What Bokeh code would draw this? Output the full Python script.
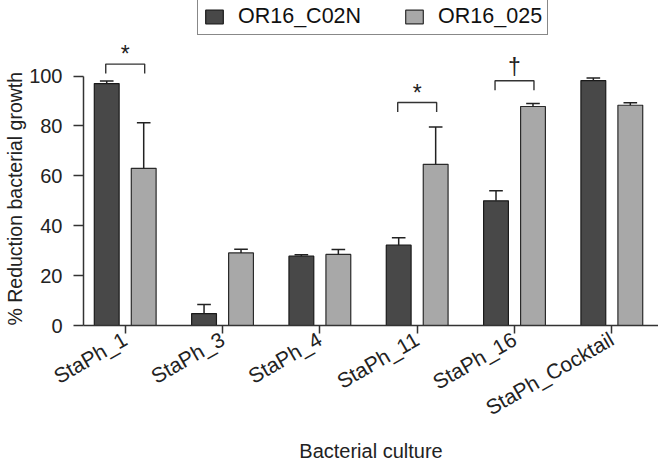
import numpy as np
from bokeh.plotting import figure
from bokeh.models import Range1d, FixedTicker, Legend, LegendItem, Title
from bokeh.core.properties import value
from bokeh.embed import file_html
from bokeh.resources import INLINE

# ---- data ----
categories = ["StaPh_1", "StaPh_3", "StaPh_4", "StaPh_11", "StaPh_16", "StaPh_Cocktail"]
c02n = [97.0, 4.8, 27.8, 32.2, 50.0, 98.2]
c02n_err = [1.0, 3.6, 0.6, 3.0, 4.0, 1.0]
or025 = [63.0, 29.1, 28.5, 64.6, 87.8, 88.3]
or025_err = [18.3, 1.5, 2.0, 15.0, 1.2, 1.0]
y_ticks = [0, 20, 40, 60, 80, 100]
sig_index = [0, 3, 4]
sig_symbols = ["*", "*", "\u2020"]
sig_bracket_top = [104.8, 89.4, 98.1]
sig_label_y = [108.8, 93.4, 103.8]
series_names = ["OR16_C02N", "OR16_025"]
x_title = "Bacterial culture"
y_title = "% Reduction bacterial growth"

FONT = "Liberation Sans"
DARK = "#484848"
LIGHT = "#a8a8a8"

idx = np.arange(len(categories))
off = 0.19
bw = 0.255
xd = idx - off
xl = idx + off

p = figure(width=658, height=465, output_backend="svg", toolbar_location=None,
           x_range=Range1d(-0.4286, 5.4796), y_range=Range1d(0, 130.3),
           min_border_left=79, min_border_right=0, min_border_top=0, min_border_bottom=138)
p.outline_line_color = None
p.xgrid.grid_line_color = None
p.ygrid.grid_line_color = None
p.background_fill_color = "white"

r1 = p.vbar(x=xd, top=c02n, width=bw, fill_color=DARK, line_color="#1a1a1a", line_width=1.2)
r2 = p.vbar(x=xl, top=or025, width=bw, fill_color=LIGHT, line_color="#2a2a2a", line_width=1.2)

# error bars (upper only)
for xs, vals, errs in ((xd, c02n, c02n_err), (xl, or025, or025_err)):
    v = np.array(vals)
    e = np.array(errs)
    p.segment(x0=xs, y0=v, x1=xs, y1=v + e, line_color="#222222", line_width=1.5)
    p.segment(x0=xs - 0.07, y0=v + e, x1=xs + 0.07, y1=v + e, line_color="#222222", line_width=1.5)

# significance brackets
bx = [[i - 0.2, i - 0.2, i + 0.2, i + 0.2] for i in sig_index]
by = [[t - 3.8, t, t, t - 3.8] for t in sig_bracket_top]
p.multi_line(xs=bx, ys=by, line_color="#333333", line_width=1.4)
p.text(x=sig_index, y=sig_label_y, text=sig_symbols, text_align="center", text_baseline="middle",
       text_font=value(FONT), text_font_size="23px", text_color="#222222")

# axes
p.xaxis.ticker = FixedTicker(ticks=list(idx))
p.xaxis.major_label_overrides = {int(i): c for i, c in zip(idx, categories)}
p.xaxis.major_label_orientation = np.pi / 6
p.xaxis.minor_tick_line_color = None
p.xaxis.major_tick_out = 8
p.xaxis.major_tick_in = 0
p.xaxis.major_label_standoff = 4
p.xaxis.axis_label = x_title
p.xaxis.axis_label_standoff = 8

p.yaxis.ticker = FixedTicker(ticks=y_ticks)
p.yaxis.bounds = (0, 100)
p.yaxis.minor_tick_line_color = None
p.yaxis.major_tick_out = 10
p.yaxis.major_tick_in = 0
p.yaxis.major_label_standoff = 11

for ax in (p.xaxis[0], p.yaxis[0]):
    ax.axis_line_color = "#333333"
    ax.axis_line_width = 1.5
    ax.major_tick_line_color = "#333333"
    ax.major_tick_line_width = 1.5
    ax.major_label_text_color = "#222222"
    ax.major_label_text_font = FONT
    ax.axis_label_text_font = FONT
    ax.axis_label_text_font_style = "normal"
    ax.axis_label_text_color = "#222222"

p.xaxis.major_label_text_font_size = "21px"
p.yaxis.major_label_text_font_size = "20px"
p.xaxis.axis_label_text_font_size = "20px"

ytitle = Title(text=y_title, align="left", offset=0, standoff=2,
               text_font=FONT, text_font_size="19.5px", text_font_style="normal",
               text_color="#222222")
p.add_layout(ytitle, "left")

legend = Legend(items=[LegendItem(label=series_names[0], renderers=[r1]),
                       LegendItem(label=series_names[1], renderers=[r2])],
                orientation="horizontal", location=(114, 290),
                glyph_width=22, glyph_height=17, label_standoff=13, spacing=42,
                padding=5, margin=0, label_height=17,
                border_line_color="#111111", border_line_width=1.5,
                label_text_font=FONT, label_text_font_size="21.5px", label_text_color="#111111",
                background_fill_color="white", background_fill_alpha=1.0)
p.add_layout(legend)

open("out.html", "w").write(file_html(p, INLINE))
